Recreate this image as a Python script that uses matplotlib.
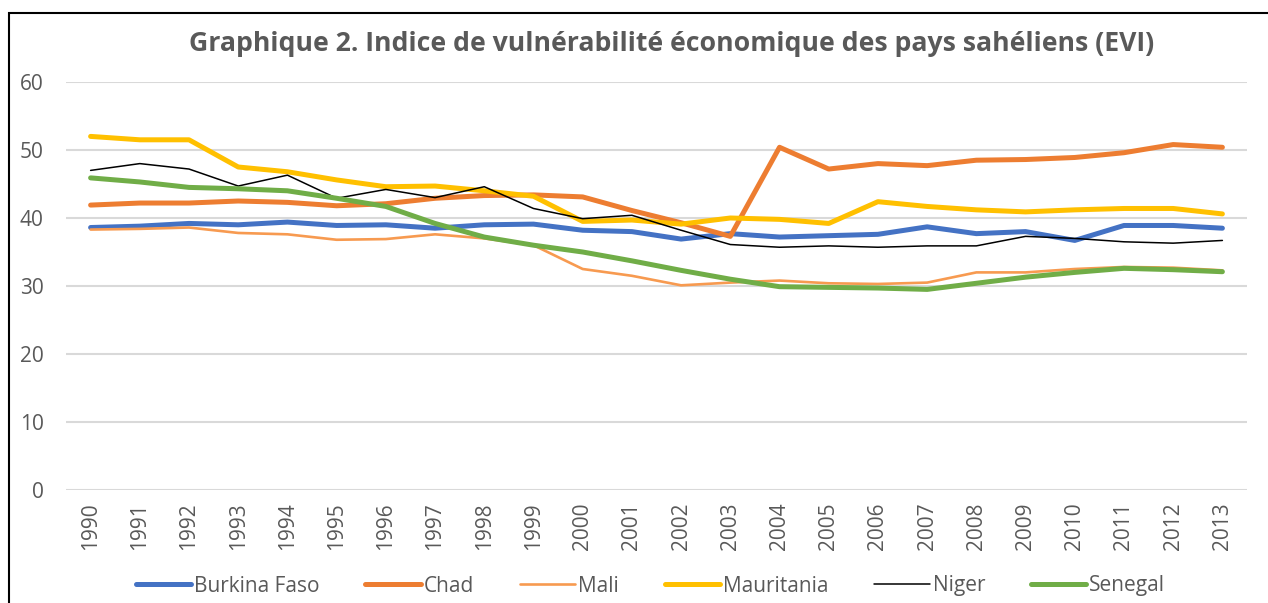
import matplotlib
matplotlib.use("Agg")
import matplotlib.pyplot as plt
from matplotlib.patches import Rectangle

years = [str(y) for y in range(1990, 2014)]
burkina = [38.6, 38.8, 39.2, 39.0, 39.4, 38.9, 39.0, 38.5, 39.0, 39.1, 38.2, 38.0,
           36.9, 37.7, 37.2, 37.4, 37.6, 38.7, 37.7, 38.0, 36.7, 38.9, 38.9, 38.5]
chad = [41.9, 42.2, 42.2, 42.5, 42.3, 41.8, 42.1, 42.9, 43.3, 43.4, 43.1, 41.1,
        39.3, 37.3, 50.4, 47.2, 48.0, 47.7, 48.5, 48.6, 48.9, 49.6, 50.8, 50.4]
mali = [38.3, 38.4, 38.6, 37.8, 37.6, 36.8, 36.9, 37.6, 37.0, 36.0, 32.5, 31.5,
        30.1, 30.5, 30.8, 30.4, 30.3, 30.5, 32.0, 32.0, 32.5, 32.8, 32.7, 32.3]
mauritania = [52.0, 51.5, 51.5, 47.5, 46.8, 45.6, 44.6, 44.7, 44.0, 43.2, 39.5, 39.7,
              39.1, 40.0, 39.8, 39.2, 42.4, 41.7, 41.2, 40.9, 41.2, 41.4, 41.4, 40.6]
niger = [47.0, 48.0, 47.2, 44.7, 46.3, 42.9, 44.2, 43.0, 44.6, 41.4, 39.9, 40.4,
         38.2, 36.1, 35.7, 35.9, 35.7, 35.9, 35.9, 37.3, 37.0, 36.5, 36.3, 36.7]
senegal = [45.9, 45.3, 44.5, 44.3, 44.0, 42.9, 41.7, 39.2, 37.2, 36.0, 35.0, 33.7,
           32.3, 31.0, 29.9, 29.8, 29.7, 29.5, 30.4, 31.3, 32.0, 32.6, 32.4, 32.1]

series_names = ["Burkina Faso", "Chad", "Mali", "Mauritania", "Niger", "Senegal"]
series_values = [burkina, chad, mali, mauritania, niger, senegal]
colors = ["#4472C4", "#ED7D31", "#F79A50", "#FFC000", "#000000", "#70AD47"]
widths = [3.6, 3.6, 1.9, 3.6, 1.1, 3.6]

plt.rcParams['font.family'] = ['Open Sans', 'DejaVu Sans']
txt = "#595959"

fig = plt.figure(figsize=(12.68, 6.03), dpi=100)
ax = fig.add_axes([66/1268, 1 - 490/603, (1247-66)/1268, (490-82)/603])

x = list(range(len(years)))
for name, vals, c, w in zip(series_names, series_values, colors, widths):
    ax.plot(x, vals, color=c, lw=w, label=name, solid_capstyle='round', solid_joinstyle='round')

ax.set_xlim(-0.5, len(years) - 0.5)
ax.set_ylim(0, 60)
ax.set_yticks(range(0, 61, 10))
ax.set_xticks(x)
ax.set_xticklabels(years, rotation=90)
ax.grid(axis='y', color='#D9D9D9', lw=1.5)
ax.set_axisbelow(True)
for s in ax.spines.values():
    s.set_visible(False)
ax.tick_params(axis='both', length=0, labelsize=15, colors=txt)
ax.tick_params(axis='x', pad=9)
ax.tick_params(axis='y', pad=16)

fig.text(0.530, 1 - 44/603, "Graphique 2. Indice de vulnérabilité économique des pays sahéliens (EVI)",
         ha='center', va='center', fontsize=19.2, fontweight='bold', color=txt)

leg = fig.legend(loc='center', bbox_to_anchor=(0.513, 1 - 586/603), ncol=6, frameon=False,
                 fontsize=15, handlelength=2.65, columnspacing=2.2, handletextpad=0.15)
for t in leg.get_texts():
    t.set_color(txt)

fig.patches.append(Rectangle((9/1268, -0.1), 1.2, (1 - 13.5/603) + 0.1, transform=fig.transFigure,
                             fill=False, edgecolor='black', lw=1.5))

fig.savefig("out.png", dpi=100)
